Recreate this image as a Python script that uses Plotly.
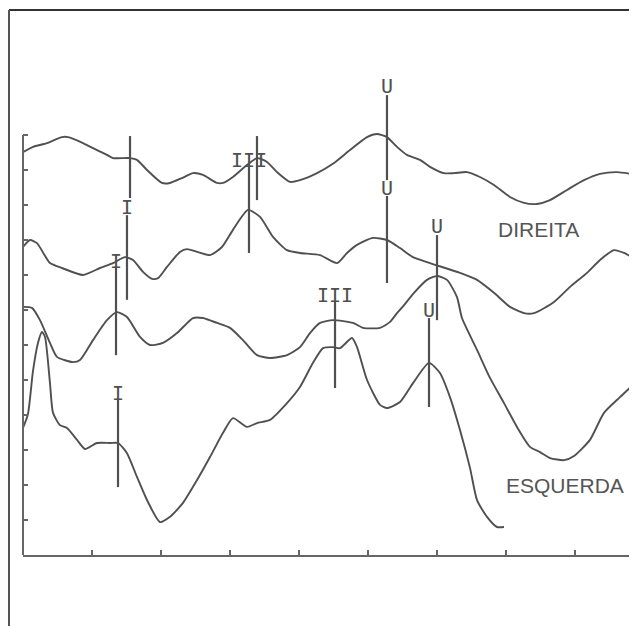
import plotly.graph_objects as go

# ---- Waveforms: latency (ms) and stacked amplitude (division units) ----
direita_1_ms = [0.0, 0.145, 0.348, 0.565, 0.652, 0.870, 1.072, 1.217, 1.304, 1.551, 1.652, 1.797,
                2.014, 2.130, 2.304, 2.464, 2.609, 2.812, 2.899, 3.043, 3.246, 3.391, 3.536, 3.681,
                3.870, 4.014, 4.261, 4.507, 4.739, 4.986, 5.130, 5.275, 5.420, 5.565, 5.754, 5.899,
                6.101, 6.246, 6.435, 6.623, 6.826, 7.058, 7.261, 7.449, 7.638, 7.884, 8.130, 8.362,
                8.609, 8.899]
direita_1_amp = [11.51, 11.66, 11.77, 11.94, 11.94, 11.77, 11.57, 11.43, 11.34, 11.34, 11.29, 11.00,
                 10.63, 10.63, 10.77, 10.91, 10.86, 10.63, 10.63, 10.80, 11.14, 11.34, 11.23, 10.94,
                 10.66, 10.71, 10.91, 11.20, 11.57, 11.94, 12.03, 11.94, 11.66, 11.43, 11.29, 11.09,
                 10.91, 10.91, 10.94, 10.80, 10.57, 10.23, 10.06, 10.03, 10.14, 10.43, 10.71, 10.89,
                 10.94, 10.86]

direita_2_ms = [0.0, 0.101, 0.203, 0.391, 0.565, 0.870, 1.116, 1.304, 1.478, 1.594, 1.739, 1.870,
                1.957, 2.087, 2.275, 2.377, 2.522, 2.710, 2.884, 3.043, 3.261, 3.435, 3.623, 3.826,
                4.014, 4.304, 4.551, 4.696, 4.841, 5.072, 5.275, 5.464, 5.652, 5.899, 6.333, 6.580,
                6.826, 7.058, 7.261, 7.406, 7.696, 7.928, 8.174, 8.362, 8.565, 8.710, 8.899]
direita_2_amp = [8.80, 9.00, 8.91, 8.34, 8.20, 8.00, 8.20, 8.34, 8.51, 8.43, 8.09, 7.89,
                 7.91, 8.23, 8.66, 8.74, 8.66, 8.57, 8.80, 9.29, 9.86, 9.66, 9.09, 8.71,
                 8.63, 8.57, 8.34, 8.63, 8.86, 9.06, 9.00, 8.77, 8.51, 8.34, 8.06, 7.86,
                 7.49, 7.09, 6.91, 6.91, 7.23, 7.66, 8.06, 8.43, 8.71, 8.63, 8.43]

esquerda_1_ms = [0.0, 0.130, 0.246, 0.391, 0.493, 0.725, 0.826, 1.014, 1.217, 1.362, 1.507, 1.696,
                 1.841, 2.029, 2.232, 2.464, 2.609, 2.812, 3.000, 3.188, 3.391, 3.580, 3.826, 4.014,
                 4.159, 4.304, 4.493, 4.783, 4.928, 5.174, 5.319, 5.420, 5.522, 5.667, 5.855, 6.000,
                 6.145, 6.290, 6.362, 6.580, 6.768, 6.971, 7.159, 7.348, 7.493, 7.638, 7.841, 7.986,
                 8.217, 8.420, 8.652, 8.899]
esquerda_1_amp = [7.09, 7.06, 6.71, 6.06, 5.66, 5.51, 5.57, 6.14, 6.71, 6.94, 6.80, 6.23,
                  6.00, 6.06, 6.34, 6.77, 6.77, 6.63, 6.49, 6.14, 5.71, 5.63, 5.71, 5.94,
                  6.34, 6.63, 6.71, 6.63, 6.49, 6.49, 6.66, 6.91, 7.14, 7.49, 7.86, 7.97,
                  7.86, 7.37, 6.77, 5.86, 5.06, 4.34, 3.66, 3.09, 2.94, 2.77, 2.71, 2.83,
                  3.29, 4.06, 4.51, 4.97]

esquerda_2_ms = [0.0, 0.072, 0.145, 0.217, 0.275, 0.319, 0.391, 0.435, 0.536, 0.638, 0.783, 0.899,
                 1.072, 1.261, 1.377, 1.507, 1.652, 1.797, 1.986, 2.130, 2.319, 2.522, 2.710, 2.899,
                 3.043, 3.246, 3.391, 3.580, 3.826, 4.014, 4.203, 4.348, 4.493, 4.594, 4.768, 4.841,
                 4.986, 5.174, 5.275, 5.464, 5.652, 5.884, 6.043, 6.188, 6.333, 6.478, 6.580, 6.725,
                 6.870, 6.971]
esquerda_2_amp = [3.63, 4.03, 5.26, 6.06, 6.37, 6.23, 4.91, 4.06, 3.71, 3.63, 3.29, 3.03,
                  3.20, 3.20, 3.20, 2.91, 2.23, 1.57, 0.94, 1.09, 1.49, 2.14, 2.80, 3.49,
                  3.91, 3.66, 3.77, 3.86, 4.34, 4.80, 5.49, 5.91, 5.94, 5.91, 6.20, 5.94,
                  5.00, 4.29, 4.20, 4.37, 4.91, 5.49, 5.20, 4.51, 3.57, 2.49, 1.57, 1.09,
                  0.80, 0.80]

# ---- Wave markers (peak latency, line top/bottom, label and label height) ----
wave_label = ["", "", "U", "I", "III", "U", "I", "III", "U", "I", "U"]
wave_ms = [1.551, 3.391, 5.275, 1.507, 3.275, 5.275, 1.348, 4.522, 6.000, 1.377, 5.884]
wave_top = [11.97, 11.97, 13.14, 9.71, 11.09, 10.26, 8.20, 7.23, 9.14, 4.43, 6.77]
wave_bottom = [10.20, 10.14, 10.71, 7.29, 8.63, 7.77, 5.71, 4.77, 6.71, 1.94, 4.23]
wave_label_amp = [0, 0, 13.39, 9.94, 11.29, 10.49, 8.41, 7.44, 9.39, 4.64, 7.00]

# ---- Side labels ----
side_labels = ["DIREITA", "ESQUERDA"]
side_ms = [7.47, 7.855]
side_amp = [9.30, 2.00]

x_ticks = list(range(0, 9))
y_ticks = list(range(0, 13))
X_MAX = 614 / 69
Y_MAX = 545 / 35

LINE = "#505050"
fig = go.Figure()

for xs, ys in [(direita_1_ms, direita_1_amp), (direita_2_ms, direita_2_amp),
               (esquerda_1_ms, esquerda_1_amp), (esquerda_2_ms, esquerda_2_amp)]:
    fig.add_trace(go.Scatter(x=xs, y=ys, mode="lines",
                             line=dict(color=LINE, width=1.9, shape="spline", smoothing=0.6),
                             hoverinfo="skip"))

mx, my = [], []
for x, t, b in zip(wave_ms, wave_top, wave_bottom):
    mx += [x, x, None]
    my += [t, b, None]
fig.add_trace(go.Scatter(x=mx, y=my, mode="lines", line=dict(color=LINE, width=2.2),
                         hoverinfo="skip"))

annotations = []
for lab, x, y in zip(wave_label, wave_ms, wave_label_amp):
    if lab:
        annotations.append(dict(x=x, y=y, text=lab, showarrow=False, xanchor="center",
                                yanchor="middle",
                                font=dict(family="DejaVu Sans Mono", size=20, color=LINE)))
for lab, x, y in zip(side_labels, side_ms, side_amp):
    annotations.append(dict(x=x, y=y, text=lab, showarrow=False, xanchor="center",
                            yanchor="middle",
                            font=dict(family="Liberation Sans, Arial", size=21, color="#555555")))

shapes = [
    # left spine of the trace area (0 to 12 divisions)
    dict(type="line", xref="paper", yref="paper", x0=0, x1=0, y0=0, y1=12 / Y_MAX,
         line=dict(color="#666666", width=2)),
    # outer frame
    dict(type="line", xref="paper", yref="paper", x0=-14 / 614, x1=1, y0=1, y1=1,
         line=dict(color="#333333", width=2)),
    dict(type="line", xref="paper", yref="paper", x0=-14 / 614, x1=-14 / 614, y0=1, y1=-71 / 545,
         line=dict(color="#555555", width=2)),
    dict(type="line", xref="paper", yref="paper", x0=613 / 614, x1=613 / 614, y0=0, y1=478 / 545,
         line=dict(color="#cccccc", width=1)),
]

# page body has an 8 px margin, so the figure is 629 x 618 placed at (8, 8)
fig.update_layout(
    width=629, height=618,
    margin=dict(l=15, r=0, t=2, b=71),
    paper_bgcolor="white", plot_bgcolor="white",
    showlegend=False,
    annotations=annotations,
    shapes=shapes,
    xaxis=dict(range=[0, X_MAX], showgrid=False, zeroline=False, showline=True,
               linecolor="#666666", linewidth=2, ticks="inside", tickvals=x_ticks,
               ticklen=5, tickwidth=1.5, tickcolor="#666666", showticklabels=False,
               fixedrange=True),
    yaxis=dict(range=[0, Y_MAX], showgrid=False, zeroline=False, showline=False,
               ticks="inside", tickvals=y_ticks, ticklen=5, tickwidth=1.5,
               tickcolor="#666666", showticklabels=False, fixedrange=True),
)

fig.write_html("out.html")
